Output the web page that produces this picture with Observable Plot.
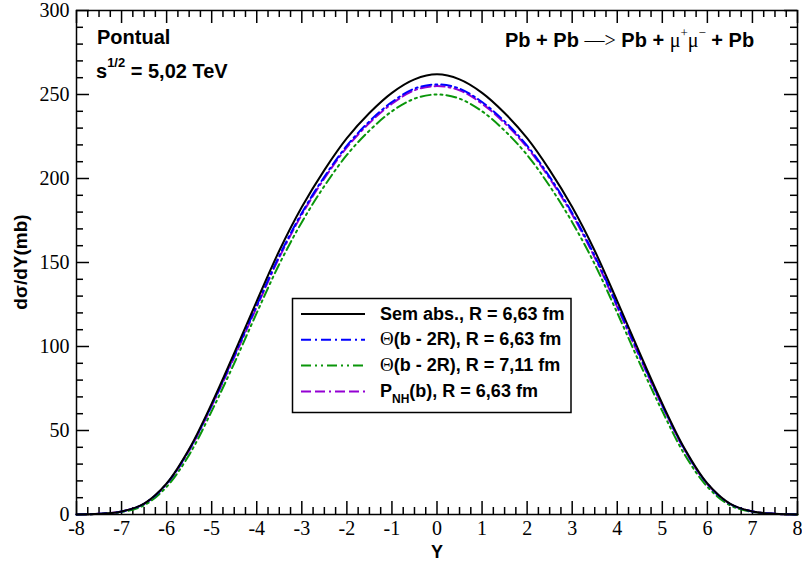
<!DOCTYPE html>
<html><head><meta charset="utf-8">
<script src="https://cdn.jsdelivr.net/npm/d3@7"></script>
<script src="https://cdn.jsdelivr.net/npm/@observablehq/plot@0.6"></script>
<style>
body{margin:0;background:#fff}
#chart{position:relative;width:802px;height:563px}
#chart > svg{display:block}
#overlay{position:absolute;left:0;top:0;pointer-events:none}
</style>
</head><body><div id="chart"></div>
<script>
// ---- data ----
const rapidity = [-8,-7.5,-7,-6.5,-6,-5.5,-5,-4.5,-4,-3.5,-3,-2.5,-2,-1.5,-1,-0.5,0,0.5,1,1.5,2,2.5,3,3.5,4,4.5,5,5.5,6,6.5,7,7.5,8];
const semAbs     = [0.05,0.4,1.8,6.5,18.5,39,66,96,127,157,183,205,224,239,251,259,262,259,251,239,224,205,183,157,127,96,66,39,18.5,6.5,1.8,0.4,0.05];
const thetaR663  = [0.05,0.4,1.8,6.4,18.3,38.5,65,94.5,124.5,154,179.5,201,219.5,234,245.5,253.5,256,253.5,245.5,234,219.5,201,179.5,154,124.5,94.5,65,38.5,18.3,6.4,1.8,0.4,0.05];
const thetaR711  = [0.05,0.35,1.5,5.5,16.5,35.5,61.5,90,120,149,174,195.5,214,228.5,240,247.5,250,247.5,240,228.5,214,195.5,174,149,120,90,61.5,35.5,16.5,5.5,1.5,0.35,0.05];
const pNH        = [0.05,0.4,1.8,6.3,18,38,64.5,93.5,123.5,153,178.5,200,218.5,233,244.5,252.5,255,252.5,244.5,233,218.5,200,178.5,153,123.5,93.5,64.5,38,18,6.3,1.8,0.4,0.05];

const seriesNames = ["Sem abs., R = 6,63 fm","Θ(b - 2R), R = 6,63 fm","Θ(b - 2R), R = 7,11 fm","P_NH(b), R = 6,63 fm"];
const seriesValues = [semAbs, thetaR663, thetaR711, pNH];
const seriesColors = ["#000000","#0000ff","#0a960a","#9400d3"];
const seriesDash = [null,"10,4,2,4","10,4,2,4,2,4","10,4,10,4,2,4"];

const xTicks = [-8,-7,-6,-5,-4,-3,-2,-1,0,1,2,3,4,5,6,7,8];
const yTicks = [0,50,100,150,200,250,300];
const xMinor = d3.range(-8, 8.001, 0.25).filter(v => !Number.isInteger(v));
const yMinor = d3.range(0, 300.1, 10).filter(v => v % 50 !== 0);

// ---- layout ----
const W = 802, H = 563, ML = 76, MR = 5, MT = 10, MB = 49;
const PW = W - ML - MR, PH = H - MT - MB;

const rows = [];
seriesValues.forEach((vals, s) => vals.forEach((v, i) => rows.push({s, x: rapidity[i], y: v})));

const fmt = d => String(d);
const tk = {stroke: "black", strokeWidth: 1.5};

const plot = Plot.plot({
  width: W, height: H,
  marginLeft: ML, marginRight: MR, marginTop: MT, marginBottom: MB,
  x: {domain: [-8, 8]},
  y: {domain: [0, 300]},
  style: {fontFamily: "'Liberation Serif', serif", fontSize: "20px", background: "white", color: "black", overflow: "visible"},
  marks: [
    Plot.axisX(xTicks, {anchor: "bottom", tickSize: 0, tickPadding: 6, tickFormat: fmt, label: null, fontSize: 20, fill: "black"}),
    Plot.axisY(yTicks, {anchor: "left", tickSize: 0, tickPadding: 7, tickFormat: fmt, label: null, fontSize: 20, fill: "black"}),
    Plot.tickX(xTicks, {x: d => d, insetTop: PH - 13, ...tk}),
    Plot.tickX(xTicks, {x: d => d, insetBottom: PH - 13, ...tk}),
    Plot.tickX(xMinor, {x: d => d, insetTop: PH - 7, ...tk}),
    Plot.tickX(xMinor, {x: d => d, insetBottom: PH - 7, ...tk}),
    Plot.tickY(yTicks, {y: d => d, insetRight: PW - 13, ...tk}),
    Plot.tickY(yTicks, {y: d => d, insetLeft: PW - 13, ...tk}),
    Plot.tickY(yMinor, {y: d => d, insetRight: PW - 7, ...tk}),
    Plot.tickY(yMinor, {y: d => d, insetLeft: PW - 7, ...tk}),
    ...[3, 2, 1, 0].map(s => Plot.line(rows.filter(r => r.s === s), {
      x: "x", y: "y", stroke: seriesColors[s], strokeWidth: 2,
      strokeDasharray: seriesDash[s] || undefined, curve: "catmull-rom"
    })),
    Plot.frame({stroke: "black", strokeWidth: 1.5})
  ]
});
const chart = document.getElementById("chart");
chart.appendChild(plot);

// ---- annotations, labels, legend in a separate overlay svg ----
const NS = "http://www.w3.org/2000/svg";
const sans = "Liberation Sans, Arial, sans-serif";
const serif = "Liberation Serif, serif";
function el(parent, tag, attrs, text) {
  const e = document.createElementNS(NS, tag);
  for (const k in attrs) if (attrs[k] != null) e.setAttribute(k, attrs[k]);
  if (text != null) e.textContent = text;
  parent.appendChild(e);
  return e;
}
const overlay = el(chart, "svg", {id: "overlay", width: W, height: H, viewBox: `0 0 ${W} ${H}`});
const layer = el(overlay, "g", {"text-anchor": "start", fill: "black"});
const bold = {"font-family": sans, "font-weight": "bold"};
const thin = {"font-family": serif, "font-weight": "normal"};

// axis labels
el(layer, "text", {x: 437, y: 558, "text-anchor": "middle", "font-size": 18, ...bold}, "Y");
el(layer, "text", {transform: "translate(27,262) rotate(-90)", "text-anchor": "middle", "font-size": 19, ...bold}, "dσ/dY(mb)");

// top-left annotations
el(layer, "text", {x: 97, y: 44, "font-size": 20, ...bold}, "Pontual");
const t2 = el(layer, "text", {x: 96, y: 78, "font-size": 20, ...bold});
el(t2, "tspan", {}, "s");
el(t2, "tspan", {dy: -11, "font-size": 13}, "1/2");
el(t2, "tspan", {dy: 11}, " = 5,02 TeV");

// top-right reaction
const t3 = el(layer, "text", {x: 505, y: 47, "font-size": 20, ...bold});
el(t3, "tspan", {}, "Pb + Pb ");
el(t3, "tspan", {...thin}, "—>");
el(t3, "tspan", {}, " Pb + ");
el(t3, "tspan", {...thin}, "μ");
el(t3, "tspan", {...thin, "font-size": 13, dy: -10}, "+");
el(t3, "tspan", {...thin, dy: 10}, "μ");
el(t3, "tspan", {...thin, "font-size": 13, dy: -10}, "−");
el(t3, "tspan", {dy: 10}, " + Pb");

// legend
el(layer, "rect", {x: 292.5, y: 298.5, width: 278.5, height: 114, fill: "white", stroke: "black", "stroke-width": 1.5});
seriesNames.forEach((name, i) => {
  const base = 319.5 + i * 25.8;
  el(layer, "line", {x1: 301, x2: 365, y1: base - 5.5, y2: base - 5.5, stroke: seriesColors[i],
    "stroke-width": 2, "stroke-dasharray": seriesDash[i]});
  const t = el(layer, "text", {x: 380, y: base, "font-size": 18, ...bold});
  if (name.startsWith("Θ")) {
    el(t, "tspan", {...thin, "font-size": 19}, "Θ");
    el(t, "tspan", {}, name.slice(1));
  } else if (name.startsWith("P_NH")) {
    el(t, "tspan", {}, "P");
    el(t, "tspan", {"font-size": 12, dy: 6}, "NH");
    el(t, "tspan", {dy: -6}, name.slice(4));
  } else {
    t.textContent = name;
  }
});
</script>
</body></html>
